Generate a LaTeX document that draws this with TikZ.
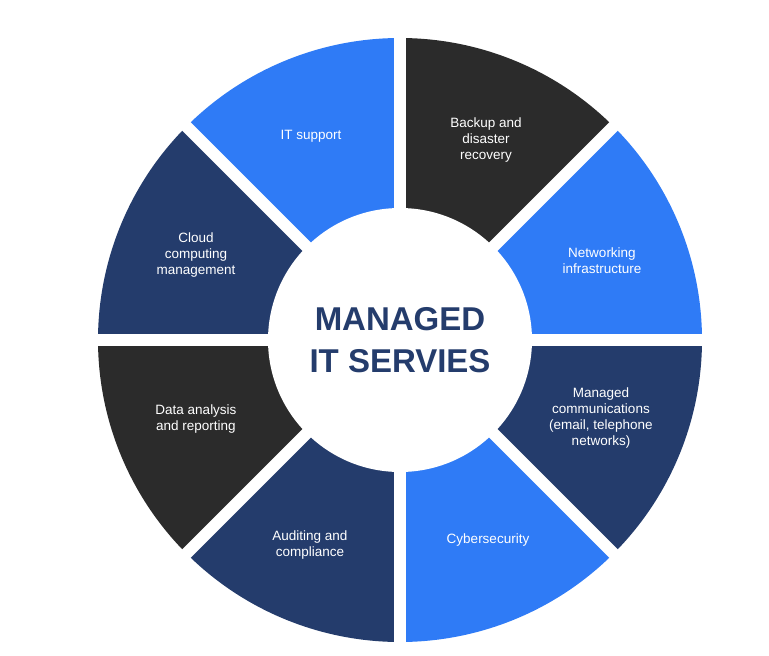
\documentclass[tikz,border=0pt]{standalone}
\usepackage{fontspec}
\setmainfont{Liberation Sans}
\usetikzlibrary{calc}
\definecolor{cblue}{HTML}{2F7BF6}
\definecolor{cnavy}{HTML}{243C6C}
\definecolor{cgray}{HTML}{2B2B2B}
\tikzset{lbl/.style={text=white,align=center,font=\fontsize{13.5}{16}\selectfont},
gap/.style={white,line width=12pt}}
\begin{document}
\begin{tikzpicture}[x=1pt,y=-1pt]
\useasboundingbox[fill=white] (0,0) rectangle (769,656);
\coordinate (c) at (400,340);
\foreach \a/\col in {-90/cgray,-45/cblue,0/cnavy,45/cblue,90/cnavy,135/cgray,-180/cnavy,-135/cblue}{
  \fill[\col] (c) -- ++(\a:302) arc[start angle=\a,delta angle=45,radius=302] -- cycle;
}
\foreach \a in {0,45,90,135}{
  \draw[gap] ($(c)+(\a:310)$) -- ($(c)+(\a+180:310)$);
}
\fill[white] (c) circle[radius=132];
\node[text=cnavy,align=center,font=\bfseries\fontsize{33}{42}\selectfont] (t) at (c) {MANAGED\\IT SERVIES};
\node[lbl] (a1) at (311,136) {IT support};
\node[lbl] (a2) at (486,140) {Backup and\\disaster\\recovery};
\node[lbl] (a3) at (602,261) {Networking\\infrastructure};
\node[lbl] (a4) at (601,418) {Managed\\communications\\(email, telephone\\networks)};
\node[lbl] (a5) at (488,540) {Cybersecurity};
\node[lbl] (a6) at (310,545) {Auditing and\\compliance};
\node[lbl] (a7) at (196,419) {Data analysis\\and reporting};
\node[lbl] (a8) at (196,255) {Cloud\\computing\\management};
\end{tikzpicture}
\end{document}
